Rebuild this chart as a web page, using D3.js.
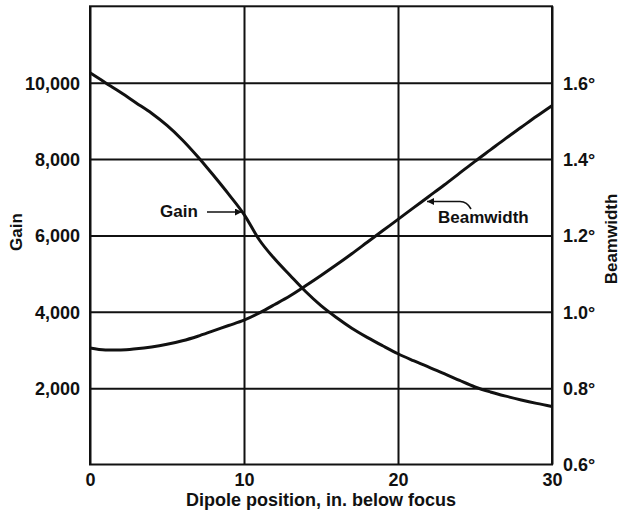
<!DOCTYPE html>
<html>
<head>
<meta charset="utf-8">
<script src="https://cdn.jsdelivr.net/npm/d3@7"></script>
<style>
  html, body { margin: 0; padding: 0; background: #fff; }
  svg { display: block; }
  text { font-family: "Liberation Sans", Arial, Helvetica, sans-serif; font-weight: bold; fill: #111; }
</style>
</head>
<body>
<svg id="chart" width="622" height="518"></svg>
<script>
// Dipole position below focus (inches)
const positions = [0, 1, 2, 3, 4, 5, 6, 7, 8, 9, 10, 11, 12, 13, 14, 15, 16, 17, 18, 19, 20, 21, 22, 23, 24, 25, 26, 27, 28, 29, 30];
// Antenna gain at each position
const gainValues = [10260, 10000, 9740, 9470, 9200, 8880, 8500, 8060, 7580, 7080, 6550, 5880, 5380, 4950, 4530, 4160, 3850, 3570, 3330, 3110, 2900, 2720, 2550, 2380, 2200, 2030, 1900, 1790, 1690, 1600, 1520];
// Beamwidth (degrees) at each position
const beamValues = [0.905, 0.900, 0.900, 0.903, 0.908, 0.915, 0.924, 0.936, 0.950, 0.964, 0.978, 0.997, 1.019, 1.042, 1.068, 1.095, 1.123, 1.152, 1.182, 1.212, 1.242, 1.272, 1.302, 1.332, 1.363, 1.394, 1.424, 1.454, 1.483, 1.512, 1.540];

const xTicks = [0, 10, 20, 30];
const gainTicks = [2000, 4000, 6000, 8000, 10000];
const beamTicks = [0.6, 0.8, 1.0, 1.2, 1.4, 1.6];

const svg = d3.select("#chart");
const plotLeft = 90, plotRight = 552, plotTop = 6.3, plotBottom = 464.5;
const plotW = plotRight - plotLeft, plotH = plotBottom - plotTop;

const x = d3.scaleLinear().domain([0, 30]).range([plotLeft, plotRight]);
const yGain = d3.scaleLinear().domain([0, 12000]).range([plotBottom, plotTop]);
const yBeam = d3.scaleLinear().domain([0.6, 1.8]).range([plotBottom, plotTop]);

// Horizontal grid + gain labels
const gAxis = svg.append("g")
  .attr("transform", `translate(${plotLeft},0)`)
  .call(d3.axisLeft(yGain).tickValues(gainTicks).tickSize(-plotW).tickPadding(10).tickFormat(d3.format(",")));
gAxis.select(".domain").remove();
gAxis.selectAll(".tick line").attr("stroke", "#111").attr("stroke-width", 2);
gAxis.selectAll(".tick text").attr("font-size", 18).attr("dy", "0.36em");

// Vertical grid + position labels
const xAxis = svg.append("g")
  .attr("transform", `translate(0,${plotBottom})`)
  .call(d3.axisBottom(x).tickValues(xTicks).tickSize(-plotH).tickPadding(9).tickFormat(d3.format("d")));
xAxis.select(".domain").remove();
xAxis.selectAll(".tick line").attr("stroke", "#111").attr("stroke-width", 2);
xAxis.selectAll(".tick text").attr("font-size", 18);

// Beamwidth labels on the right
const bAxis = svg.append("g")
  .attr("transform", `translate(${plotRight},0)`)
  .call(d3.axisRight(yBeam).tickValues(beamTicks).tickSize(0).tickPadding(11).tickFormat(d => d3.format(".1f")(d) + "°"));
bAxis.select(".domain").remove();
bAxis.selectAll(".tick text").attr("font-size", 18).attr("dy", "0.36em");

// Frame
svg.append("rect")
  .attr("x", plotLeft).attr("y", plotTop).attr("width", plotW).attr("height", plotH)
  .attr("fill", "none").attr("stroke", "#111").attr("stroke-width", 2);

// Curves
const gainLine = d3.line().x((d, i) => x(positions[i])).y(d => yGain(d)).curve(d3.curveMonotoneX);
const beamLine = d3.line().x((d, i) => x(positions[i])).y(d => yBeam(d)).curve(d3.curveMonotoneX);

svg.append("path").attr("d", gainLine(gainValues))
  .attr("fill", "none").attr("stroke", "#111").attr("stroke-width", 3);
svg.append("path").attr("d", beamLine(beamValues))
  .attr("fill", "none").attr("stroke", "#111").attr("stroke-width", 3);

// Arrowhead marker
svg.append("defs").append("marker")
  .attr("id", "arrow").attr("viewBox", "0 0 10 10")
  .attr("refX", 10).attr("refY", 5)
  .attr("markerWidth", 10).attr("markerHeight", 7).attr("markerUnits", "userSpaceOnUse")
  .attr("orient", "auto")
  .append("path").attr("d", "M0,0 L10,5 L0,10 Z").attr("fill", "#111");

// Curve labels with arrows
svg.append("text").attr("x", 160).attr("y", 217).attr("font-size", 17).text("Gain");
svg.append("line")
  .attr("x1", 207).attr("y1", 212).attr("x2", 242).attr("y2", 212)
  .attr("stroke", "#111").attr("stroke-width", 1.6).attr("marker-end", "url(#arrow)");

svg.append("text").attr("x", 438).attr("y", 223).attr("font-size", 17).text("Beamwidth");
svg.append("path")
  .attr("d", "M471,209 Q467,201.5 460,201.5 L427,201.5")
  .attr("fill", "none").attr("stroke", "#111").attr("stroke-width", 1.6).attr("marker-end", "url(#arrow)");

// Axis titles
svg.append("text")
  .attr("x", (plotLeft + plotRight) / 2).attr("y", 506)
  .attr("text-anchor", "middle").attr("font-size", 18)
  .text("Dipole position, in. below focus");

svg.append("text")
  .attr("transform", "translate(22,232) rotate(-90)")
  .attr("text-anchor", "middle").attr("font-size", 17)
  .text("Gain");

svg.append("text")
  .attr("transform", "translate(617,239) rotate(-90)")
  .attr("text-anchor", "middle").attr("font-size", 17)
  .text("Beamwidth");
</script>
</body>
</html>
